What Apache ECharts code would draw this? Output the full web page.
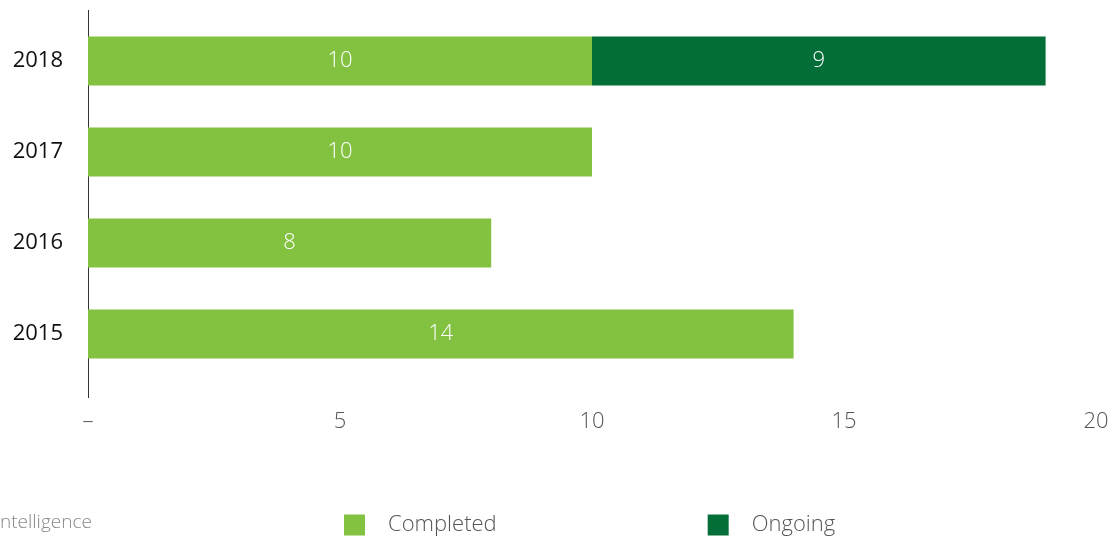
<!DOCTYPE html>
<html>
<head>
<meta charset="utf-8">
<script src="https://cdn.jsdelivr.net/npm/echarts@6/dist/echarts.min.js"></script>
<style>html,body{margin:0;padding:0;background:#fff;}#c{width:1115px;height:541px;}</style>
</head>
<body>
<div id="c"></div>
<script>
var years = ['2015', '2016', '2017', '2018'];
var completed = [14, 8, 10, 10];
var ongoing = [0, 0, 0, 9];
var xTicks = { min: 0, max: 20, interval: 5 };

var chart = echarts.init(document.getElementById('c'));
var labelStyle = {
  show: true, position: 'inside', color: '#fff', fontSize: 22,
  fontFamily: 'Open Sans', fontWeight: 300,
  formatter: function (p) { return p.value ? p.value : ''; }
};
chart.setOption({
  animation: false,
  textStyle: { fontFamily: 'Open Sans' },
  grid: { left: 88, right: 19, top: 15.5, height: 364, containLabel: false },
  legend: {
    left: 344, top: 514, padding: 0, itemWidth: 21, itemHeight: 21, itemGap: 211,
    icon: 'rect',
    textStyle: { color: '#555', fontSize: 22, lineHeight: 22, fontFamily: 'Open Sans', fontWeight: 300, padding: [0, 0, 0, 18] },
    data: ['Completed', 'Ongoing']
  },
  xAxis: {
    type: 'value', min: xTicks.min, max: xTicks.max, interval: xTicks.interval,
    splitLine: { show: false }, axisLine: { show: false }, axisTick: { show: false },
    axisLabel: {
      color: '#555', fontSize: 22, fontWeight: 300, margin: 31,
      formatter: function (v) { return v === 0 ? '–' : v; }
    }
  },
  yAxis: {
    type: 'category', data: years,
    axisLine: { show: false }, axisTick: { show: false },
    axisLabel: { color: '#111', fontSize: 22, margin: 25 }
  },
  graphic: [
    { type: 'line', shape: { x1: 88.5, y1: 10, x2: 88.5, y2: 398 }, style: { stroke: '#333', lineWidth: 1 } },
    { type: 'text', left: 0, top: 513, style: { text: 'ntelligence', fill: '#888', fontSize: 19, fontFamily: 'Open Sans', fontWeight: 300 } }
  ],
  series: [
    { name: 'Completed', type: 'bar', stack: 's', data: completed, barWidth: 49, itemStyle: { color: '#83c241' }, label: labelStyle },
    { name: 'Ongoing', type: 'bar', stack: 's', data: ongoing, barWidth: 49, itemStyle: { color: '#036e37' }, label: labelStyle }
  ]
});
</script>
</body>
</html>
